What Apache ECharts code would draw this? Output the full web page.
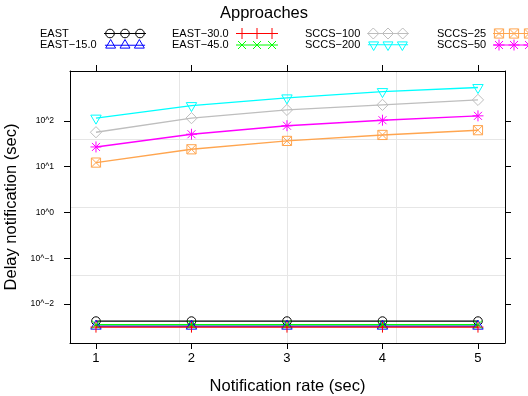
<!DOCTYPE html>
<html>
<head>
<meta charset="utf-8">
<script src="https://cdn.jsdelivr.net/npm/echarts@6/dist/echarts.min.js"></script>
<style>
html, body { margin: 0; padding: 0; background: #ffffff; }
#chart { width: 528px; height: 396px; }
</style>
</head>
<body>
<div id="chart"></div>
<script>
// Notification rates (sec) on the x axis
const rates = [1, 2, 3, 4, 5];

// Notification delay (sec) per approach
const east    = [0.00425, 0.00425, 0.00425, 0.00425, 0.00425];
const east15  = [0.00330, 0.00330, 0.00330, 0.00330, 0.00330];
const east30  = [0.00314, 0.00314, 0.00314, 0.00314, 0.00314];
const east45  = [0.00356, 0.00356, 0.00356, 0.00356, 0.00356];
const sccs100 = [56.6, 115, 174, 224, 288];
const sccs200 = [115, 216, 318, 437, 535];
const sccs25  = [12.3, 24.0, 36.6, 49.4, 62.7];
const sccs50  = [27.0, 51.2, 78.5, 103.6, 129];

const approachNames = ['EAST', 'EAST\u221215.0', 'EAST\u221230.0', 'EAST\u221245.0',
                       'SCCS\u2212100', 'SCCS\u2212200', 'SCCS\u221225', 'SCCS\u221250'];
const approachValues = [east, east15, east30, east45, sccs100, sccs200, sccs25, sccs50];

// Decade ticks of the log-scaled delay axis
const yTickExponents = [-2, -1, 0, 1, 2];
const yTickLabels = ['10^\u22122', '10^\u22121', '10^0', '10^1', '10^2'];

// ---- styling ----
const FONT = '"Liberation Sans", Arial, Helvetica, sans-serif';
const colors = ['#000000', '#0000ff', '#ff0000', '#00ff00', '#bebebe', '#00ffff', '#ffa54f', '#ff00ff'];

// Outline marker shapes centred on (x, y)
const shapes = [
  (x, y) => { const r = 4.3; return `M${x - r} ${y} A${r} ${r} 0 1 1 ${x + r} ${y} A${r} ${r} 0 1 1 ${x - r} ${y} Z`; },
  (x, y) => { const R = 6, w = R * 0.866; return `M${x} ${y - R} L${x + w} ${y + R / 2} L${x - w} ${y + R / 2} Z`; },
  (x, y) => { const a = 5.5; return `M${x - a} ${y} L${x + a} ${y} M${x} ${y - a} L${x} ${y + a}`; },
  (x, y) => { const a = 4; return `M${x - a} ${y - a} L${x + a} ${y + a} M${x + a} ${y - a} L${x - a} ${y + a}`; },
  (x, y) => { const a = 5.6; return `M${x} ${y - a} L${x + a} ${y} L${x} ${y + a} L${x - a} ${y} Z`; },
  (x, y) => { const R = 6, w = R * 0.866; return `M${x} ${y + R} L${x + w} ${y - R / 2} L${x - w} ${y - R / 2} Z`; },
  (x, y) => { const a = 4.6; return `M${x - a} ${y - a} L${x + a} ${y - a} L${x + a} ${y + a} L${x - a} ${y + a} Z M${x - a} ${y - a} L${x + a} ${y + a} M${x + a} ${y - a} L${x - a} ${y + a}`; },
  (x, y) => { const a = 5.5, d = 4; return `M${x - a} ${y} L${x + a} ${y} M${x} ${y - a} L${x} ${y + a} M${x - d} ${y - d} L${x + d} ${y + d} M${x + d} ${y - d} L${x - d} ${y + d}`; }
];

// Symbol path with a fixed 12x12 box so every marker keeps its natural size
function symbolPath(i) {
  return 'path://M0 0 ' + shapes[i](6, 6) + ' M12 12';
}
// Legend key: a line with three markers on it
const KEY_W = 42, KEY_H = 11;
function legendIcon(i) {
  const cy = KEY_H / 2;
  return 'path://M0 0 M0 ' + cy + ' L' + KEY_W + ' ' + cy + ' ' +
    shapes[i](6, cy) + ' ' + shapes[i](21, cy) + ' ' + shapes[i](36, cy) +
    ' M' + KEY_W + ' ' + KEY_H;
}

const series = approachNames.map((name, i) => ({
  name: name,
  type: 'line',
  xAxisIndex: 0,
  yAxisIndex: 0,
  data: rates.map((r, k) => [r, Math.log10(approachValues[i][k])]),
  symbol: symbolPath(i),
  symbolSize: 12,
  symbolKeepAspect: true,
  lineStyle: { color: colors[i], width: 1.4 },
  itemStyle: { color: 'none', borderColor: colors[i], borderWidth: 1 },
  emphasis: { disabled: true },
  animation: false,
  silent: true
}));

// Legend laid out as four columns of two entries each
const legendColumns = [
  { left: 40,  width: 59, items: [0, 1] },
  { left: 172, width: 59, items: [2, 3] },
  { left: 305, width: 57, items: [4, 5] },
  { left: 437, width: 51, items: [6, 7] }
];
const legends = legendColumns.map(col => ({
  orient: 'vertical',
  left: col.left,
  top: 25.5,
  align: 'right',
  itemWidth: KEY_W,
  itemHeight: KEY_H,
  itemGap: -4.5,
  padding: 0,
  selectedMode: false,
  formatter: n => '{a|' + n + '}',
  textStyle: {
    fontFamily: FONT, fontSize: 11, color: '#000', lineHeight: 11,
    rich: { a: { width: col.width, align: 'left', fontFamily: FONT, fontSize: 11, lineHeight: 11, color: '#000' } }
  },
  data: col.items.map(i => ({
    name: approachNames[i],
    icon: legendIcon(i),
    itemStyle: { color: 'none', borderColor: colors[i], borderWidth: 1 }
  }))
}));

const X_MIN = 0.728, X_MAX = 5.283;
const Y_MIN = -2.85, Y_MAX = 3.09;
const frameLine = { show: true, onZero: false, lineStyle: { color: '#000', width: 1 } };
const noLine = { show: false, onZero: false };
const outTick = (vals) => ({ show: true, inside: false, length: 6, customValues: vals, lineStyle: { color: '#000', width: 1 } });
const quarterGrid = { show: true, showMinLine: false, showMaxLine: false, lineStyle: { color: '#e6e6e6', width: 1 } };

const option = {
  animation: false,
  backgroundColor: '#ffffff',
  title: {
    text: 'Approaches',
    left: 'center',
    top: 5,
    padding: 0,
    textStyle: { fontFamily: FONT, fontSize: 16.5, fontWeight: 'normal', color: '#000' }
  },
  legend: legends,
  grid: { left: 70, right: 23, top: 71, bottom: 53, containLabel: false, outerBoundsMode: 'none' },
  xAxis: [
    {
      type: 'value', position: 'bottom', min: X_MIN, max: X_MAX,
      axisLine: frameLine,
      axisTick: outTick(rates),
      axisLabel: { show: true, customValues: rates, margin: 9, fontFamily: FONT, fontSize: 13, color: '#000' },
      splitLine: { show: false },
      name: 'Notification rate (sec)',
      nameLocation: 'middle',
      nameGap: 35,
      nameTextStyle: { fontFamily: FONT, fontSize: 16.5, color: '#000' }
    },
    {
      type: 'value', position: 'top', min: X_MIN, max: X_MAX,
      axisLine: frameLine,
      axisTick: outTick(rates),
      axisLabel: { show: false },
      splitLine: { show: false }
    },
    {
      type: 'value', position: 'bottom', min: 0, max: 4, interval: 1,
      axisLine: noLine, axisTick: { show: false }, axisLabel: { show: false },
      splitLine: quarterGrid
    }
  ],
  yAxis: [
    {
      type: 'value', position: 'left', min: Y_MIN, max: Y_MAX,
      axisLine: frameLine,
      axisTick: outTick(yTickExponents),
      axisLabel: {
        show: true, customValues: yTickExponents, margin: 16,
        fontFamily: FONT, fontSize: 8.6, color: '#000',
        formatter: v => yTickLabels[yTickExponents.indexOf(Math.round(v))] || ''
      },
      splitLine: { show: false },
      name: 'Delay notification (sec)',
      nameLocation: 'middle',
      nameGap: 37,
      nameTextStyle: { fontFamily: FONT, fontSize: 16.5, color: '#000' }
    },
    {
      type: 'value', position: 'right', min: Y_MIN, max: Y_MAX,
      axisLine: frameLine,
      axisTick: outTick(yTickExponents),
      axisLabel: { show: false },
      splitLine: { show: false }
    },
    {
      type: 'value', position: 'left', min: 0, max: 4, interval: 1,
      axisLine: noLine, axisTick: { show: false }, axisLabel: { show: false },
      splitLine: quarterGrid
    }
  ],
  series: series
};

const chart = echarts.init(document.getElementById('chart'), null, { renderer: 'canvas' });
chart.setOption(option);
</script>
</body>
</html>
